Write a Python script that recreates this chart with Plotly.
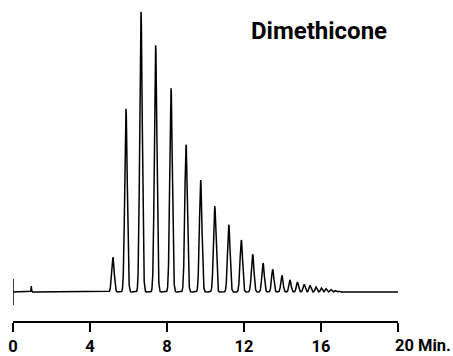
import numpy as np
import plotly.graph_objects as go

# Oligomer peak table (retention time in min, response, peak sigma in min)
retention_min = [0.95, 5.19, 5.87, 6.65, 7.41, 8.21, 8.99, 9.75, 10.48, 11.21, 11.86,
                 12.45, 12.99, 13.49, 13.97, 14.39, 14.77, 15.12, 15.43, 15.74,
                 16.02, 16.26, 16.51, 16.73, 16.92]
response = [6.0, 34.7, 183.3, 280.3, 246.7, 203.7, 147.3, 112.0, 86.0, 67.3, 52.0,
            37.7, 29.0, 22.7, 16.7, 12.0, 10.0, 7.7, 6.3, 5.0,
            4.0, 3.3, 2.5, 1.7, 1.0]
sigma_min = [0.012, 0.065, 0.065, 0.065, 0.065, 0.065, 0.065, 0.065, 0.065, 0.065, 0.065,
             0.065, 0.062, 0.06, 0.058, 0.056, 0.054, 0.052, 0.05, 0.048,
             0.046, 0.045, 0.044, 0.043, 0.042]

# Injection mark at t = 0
inject_time = [0, 0]
inject_mark = [-13, 13]

tick_vals = [0, 4, 8, 12, 16, 20]
tick_text = ["<b>0</b>", "<b>4</b>", "<b>8</b>", "<b>12</b>", "<b>16</b>", ""]
end_label = "20 Min."
title_text = "Dimethicone"

# Build the detector trace as a sum of Gaussian peaks on a flat baseline
t = np.linspace(0, 20, 8001)
signal = np.zeros_like(t)
for rt, h, s in zip(retention_min, response, sigma_min):
    signal += h * np.exp(-0.5 * ((t - rt) / s) ** 2)

fig = go.Figure()
fig.add_trace(go.Scatter(x=t, y=signal, mode="lines",
                         line=dict(color="black", width=1.5), hoverinfo="skip"))
fig.add_trace(go.Scatter(x=inject_time, y=inject_mark, mode="lines",
                         line=dict(color="black", width=1.5), hoverinfo="skip"))

W, H = 453, 356
ml, mr, mt, mb = 13, 55, 5, 35
pw = W - ml - mr
ph = H - mt - mb

fig.update_layout(
    width=W, height=H,
    margin=dict(l=ml, r=mr, t=mt, b=mb, autoexpand=False),
    paper_bgcolor="white", plot_bgcolor="white",
    showlegend=False,
    xaxis=dict(range=[0, 20], tickvals=tick_vals, ticktext=tick_text,
               ticks="outside", ticklen=9, tickwidth=1.5, tickcolor="black",
               showline=True, linewidth=1.5, linecolor="black",
               showgrid=False, zeroline=False, ticklabelstandoff=0,
               automargin=False,
               tickfont=dict(family="Roboto", size=16.5, color="black")),
    yaxis=dict(range=[-29, 287], visible=False, showgrid=False, zeroline=False,
               automargin=False),
)

fig.add_annotation(text="<b>%s</b>" % title_text, xref="paper", yref="paper",
                   x=(319 - ml) / pw, y=(H - mb - 31) / ph,
                   xanchor="center", yanchor="middle", showarrow=False,
                   font=dict(family="Roboto", size=24, color="black"))
fig.add_annotation(text="<b>%s</b>" % end_label, xref="paper", yref="paper",
                   x=(392.5 - ml) / pw, y=(H - mb - 345) / ph,
                   xanchor="left", yanchor="middle", showarrow=False,
                   font=dict(family="Roboto", size=16.5, color="black"))

fig.write_html("out.html")
